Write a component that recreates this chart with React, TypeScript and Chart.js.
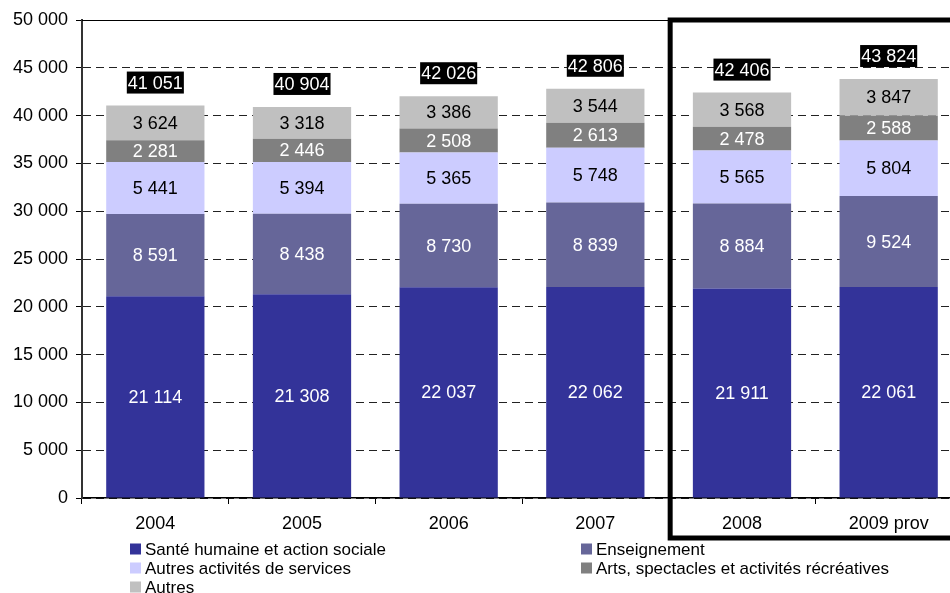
import React, { useEffect, useRef } from "react";
import { Chart, registerables } from "chart.js";

Chart.register(...registerables);

const categories = ["2004", "2005", "2006", "2007", "2008", "2009 prov"];
const sante = [21114, 21308, 22037, 22062, 21911, 22061];
const enseignement = [8591, 8438, 8730, 8839, 8884, 9524];
const autresServices = [5441, 5394, 5365, 5748, 5565, 5804];
const arts = [2281, 2446, 2508, 2613, 2478, 2588];
const autres = [3624, 3318, 3386, 3544, 3568, 3847];
const totals = [41051, 40904, 42026, 42806, 42406, 43824];

const seriesLabels = [
  "Santé humaine et action sociale",
  "Enseignement",
  "Autres activités de services",
  "Arts, spectacles et activités récréatives",
  "Autres",
];
const seriesColors = ["#333399", "#666699", "#CCCCFF", "#808080", "#C0C0C0"];
const labelColors = ["#ffffff", "#ffffff", "#000000", "#ffffff", "#000000"];

const FONT = "'Liberation Sans', Arial, sans-serif";

const fmt = (n: number) => String(n).replace(/\B(?=(\d{3})+(?!\d))/g, " ");

const W = 970;
const H = 593;

const overlayPlugin = {
  id: "overlay",
  afterDatasetsDraw(chart: any) {
    const { ctx, chartArea, scales } = chart;
    ctx.save();
    // segment labels
    ctx.font = `18px ${FONT}`;
    ctx.textAlign = "center";
    ctx.textBaseline = "middle";
    chart.data.datasets.forEach((ds: any, di: number) => {
      const meta = chart.getDatasetMeta(di);
      meta.data.forEach((el: any, i: number) => {
        const v = ds.data[i];
        ctx.fillStyle = labelColors[di];
        ctx.fillText(fmt(v), el.x, (el.y + el.base) / 2 + 1);
      });
    });
    // totals
    const lastMeta = chart.getDatasetMeta(chart.data.datasets.length - 1);
    totals.forEach((t, i) => {
      const x = lastMeta.data[i].x;
      const y = scales.y.getPixelForValue(t) - 23;
      const txt = fmt(t);
      const w = ctx.measureText(txt).width + 2;
      ctx.fillStyle = "#000";
      ctx.fillRect(x - w / 2, y - 11, w, 22);
      ctx.fillStyle = "#fff";
      ctx.fillText(txt, x, y + 1);
    });
    // top border
    ctx.strokeStyle = "#000";
    ctx.lineWidth = 1;
    ctx.beginPath();
    ctx.moveTo(chartArea.left, chartArea.top + 0.5);
    ctx.lineTo(chartArea.right, chartArea.top + 0.5);
    ctx.stroke();
    ctx.restore();
  },
  afterDraw(chart: any) {
    const { ctx, chartArea, scales } = chart;
    ctx.save();
    // highlight rectangle
    const left = (scales.x.getPixelForValue(3) + scales.x.getPixelForValue(4)) / 2;
    ctx.strokeStyle = "#000";
    ctx.lineWidth = 5;
    ctx.strokeRect(left + 1.5, chartArea.top, W, 518);
    // legend
    ctx.font = `17px ${FONT}`;
    ctx.textAlign = "left";
    ctx.textBaseline = "middle";
    const colX = [130, 581];
    const rowY = [549, 568, 587];
    seriesLabels.forEach((lab, i) => {
      const cx = colX[i % 2];
      const cy = rowY[Math.floor(i / 2)];
      ctx.fillStyle = seriesColors[i];
      ctx.fillRect(cx, cy - 5.5, 11, 11);
      ctx.fillStyle = "#000";
      ctx.fillText(lab, cx + 15, cy + 1);
    });
    ctx.restore();
  },
};

export default function App() {
  const ref = useRef<HTMLCanvasElement | null>(null);
  useEffect(() => {
    document.body.style.margin = "0";
    document.body.style.overflow = "hidden";
    if (!ref.current) return;
    Chart.defaults.font.family = FONT;
    const datasets = [sante, enseignement, autresServices, arts, autres].map((d, i) => ({
      label: seriesLabels[i],
      data: d,
      backgroundColor: seriesColors[i],
      borderWidth: 0,
      categoryPercentage: 1,
      barPercentage: 0.67,
      stack: "s",
    }));
    const chart = new Chart(ref.current, {
      type: "bar",
      data: { labels: categories, datasets },
      plugins: [overlayPlugin],
      options: {
        responsive: false,
        animation: false,
        devicePixelRatio: 1,
        layout: { padding: { top: 20, right: 8, left: 0, bottom: 0 } },
        plugins: { legend: { display: false }, tooltip: { enabled: false } },
        scales: {
          x: {
            stacked: true,
            afterFit: (s: any) => {
              s.height = 95;
            },
            grid: {
              drawOnChartArea: false,
              drawTicks: true,
              tickLength: 6,
              color: "#000",
              tickColor: "#000",
              offset: true,
            },
            border: { display: true, color: "#000", width: 1.5 },
            ticks: { color: "#000", font: { size: 18, family: FONT }, padding: 9 },
          },
          y: {
            stacked: true,
            min: 0,
            max: 50000,
            afterFit: (s: any) => {
              s.width = 82;
            },
            grid: {
              color: "#222",
              lineWidth: 1,
              tickLength: 6,
              tickColor: "#000",
            },
            border: { display: true, color: "#333", width: 2, dash: [8, 5] },
            ticks: {
              stepSize: 5000,
              color: "#000",
              padding: 8,
              font: { size: 18, family: FONT },
              callback: (v: any) => fmt(Number(v)),
            },
          },
        },
      },
    });
    return () => chart.destroy();
  }, []);
  return (
    <div style={{ width: W, height: H, overflow: "hidden" }}>
      <canvas ref={ref} width={W} height={H} style={{ width: W, height: H, display: "block" }} />
    </div>
  );
}
